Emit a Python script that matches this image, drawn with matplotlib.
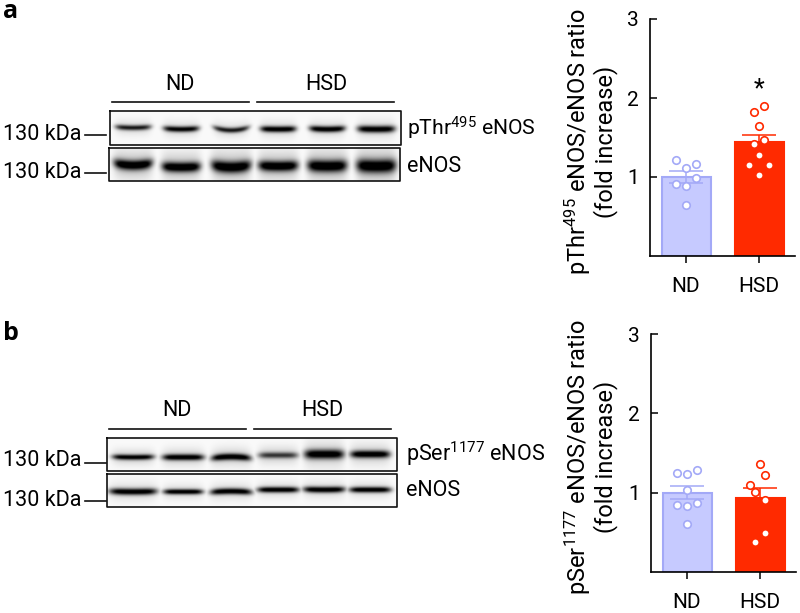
import numpy as np
import matplotlib
matplotlib.use('Agg')
import matplotlib.pyplot as plt

plt.rcParams['font.family'] = ['Roboto', 'Liberation Sans', 'DejaVu Sans']
plt.rcParams['mathtext.default'] = 'regular'

W, H = 800, 613

# Datos de las barras
grupos = ['ND', 'HSD']
ticks_y = [1, 2, 3]

thr_medias = [1.0, 1.44]
thr_error = [0.08, 0.09]
thr_nd = [1.216, 1.11, 1.165, 0.913, 0.888, 0.993, 0.648]
thr_nd_dx = [-10, 0, 10, -10, 0, 10, 0]
thr_hsd = [1.898, 1.822, 1.649, 1.422, 1.468, 1.283, 1.157, 1.149, 1.027]
thr_hsd_dx = [5, -5, 0, -5, 5, 0, -10, 10, 0]

ser_medias = [1.0, 0.93]
ser_error = [0.08, 0.13]
ser_nd = [1.254, 1.238, 1.292, 1.032, 0.839, 0.827, 0.864, 0.6]
ser_nd_dx = [-10, 0, 10, 0, -10, 0, 10, 0]
ser_hsd = [1.359, 1.217, 1.091, 1.007, 0.902, 0.487, 0.378]
ser_hsd_dx = [0, 5, -10, -5, 5, 5, -5]

# Intensidad de cada banda de los western blots (fuerza, grosor, centro y, ancho, curva)
thr_fuerza = [0.62, 0.72, 0.62, 0.92, 0.9, 0.97]
thr_grosor = [2.6, 2.8, 2.6, 3.0, 3.0, 3.4]
thr_centro = [127.5, 129, 130, 129, 129, 129]
thr_ancho = [18, 18, 18, 18, 18, 19]
thr_curva = [1, 1, 3, 0.5, 1, 0.5]
enos_a_fuerza = [1.0, 1.0, 1.0, 1.0, 1.0, 1.0]
enos_a_grosor = [4.8, 4.8, 5.6, 5.0, 5.8, 6.5]
enos_a_centro = [165, 167, 167, 166, 166, 166]
enos_a_ancho = [19.5, 19.5, 20, 20, 20, 20]
enos_a_curva = [2.5, 1, 2.5, 1, 1, 1]
ser_fuerza = [0.72, 0.75, 0.95, 0.5, 1.0, 0.92]
ser_grosor = [2.6, 3.0, 3.2, 3.0, 4.6, 3.6]
ser_centro = [457, 457, 456.5, 455, 454, 454]
ser_ancho = [21, 21, 20, 20, 20, 20]
ser_curva = [0.5, 0, -1.5, 0, 0, 0]
enos_b_fuerza = [1.0, 0.92, 0.98, 0.95, 0.98, 0.95]
enos_b_grosor = [3.2, 2.6, 3.0, 2.8, 3.0, 2.8]
enos_b_centro = [491.5, 491.5, 491, 489.5, 489.5, 489.5]
enos_b_ancho = [24, 20, 21, 21, 21, 21]
enos_b_curva = [0.5, 0, -1, 0, 0.5, 0]

carriles_a = [133, 181, 231, 278, 327, 376]
carriles_b = [133, 183, 231, 278, 324, 370]


def caja_ejes(x0, y0, x1, y1):
    return [x0 / W, 1 - y1 / H, (x1 - x0) / W, (y1 - y0) / H]


def dibujar_blot(ax, caja, carriles, fuerza, grosor, centro, ancho, curva, velo=0.12):
    x0, y0, x1, y1 = caja
    xs = np.arange(x0, x1, 0.5)
    ys = np.arange(y0, y1, 0.5)
    X, Y = np.meshgrid(xs, ys)
    img = np.zeros_like(X)
    for cx, f, g, cy, a, c in zip(carriles, fuerza, grosor, centro, ancho, curva):
        perfil_x = np.exp(-((X - cx) / a) ** 6)
        linea = cy - c * ((X - cx) / a) ** 2
        perfil_y = np.exp(-((Y - linea) / g) ** 2)
        halo = velo * np.exp(-((Y - linea) / (g * 3.0)) ** 2)
        img = np.maximum(img, perfil_x * (min(1.0, f * 1.3) * perfil_y + halo))
    ax.imshow(0.98 * (1 - np.clip(img, 0, 1)), cmap='gray', vmin=0, vmax=1, extent=(x0, x1, y1, y0),
              aspect='auto', interpolation='bilinear', zorder=1)
    ax.plot([x0, x1, x1, x0, x0], [y0, y0, y1, y1, y0], color='#111111', lw=1.2, zorder=2)


def dibujar_barras(caja, medias, error, nd, nd_dx, hsd, hsd_dx, etiqueta, pos_label):
    x0, y0, x1, y1 = caja
    ax = fig.add_axes(caja_ejes(x0, y0, x1, y1))
    ax.patch.set_alpha(0)
    ax.set_xlim(x0, x1)
    ax.set_ylim(0, 3)
    centros = [x0 + 36, x0 + 109]
    rellenos = ['#c6caff', '#ff2a00']
    bordes = ['#a3a9f7', '#ff2a00']
    puntos = [(nd, nd_dx), (hsd, hsd_dx)]
    for i in range(2):
        ax.bar(centros[i], medias[i], width=49, color=rellenos[i], edgecolor=bordes[i],
               linewidth=1.5, zorder=2)
        ax.errorbar(centros[i], medias[i], yerr=error[i], color=bordes[i], capsize=12,
                    elinewidth=1.1, capthick=1.1, zorder=3)
        vals, dx = puntos[i]
        ax.plot(np.array(dx) + centros[i], vals, 'o', ms=5.4, mfc='white', mec=bordes[i],
                mew=1.2, clip_on=False, zorder=4)
    for lado in ['top', 'right']:
        ax.spines[lado].set_visible(False)
    for lado in ['left', 'bottom']:
        ax.spines[lado].set_linewidth(1.2)
    ax.set_yticks(ticks_y)
    ax.tick_params(axis='y', direction='in', length=5, width=1.1, labelsize=15, pad=8)
    ax.set_xticks(centros)
    ax.set_xticklabels(grupos)
    ax.tick_params(axis='x', direction='out', length=5, width=1.1, labelsize=15, pad=10)
    fig.text(pos_label / W, 1 - ((y0 + y1) / 2 + 4) / H, etiqueta + '\n(fold increase)', rotation=90,
             ha='center', va='center', fontsize=17, linespacing=1.0, multialignment='center')
    return ax, centros


fig = plt.figure(figsize=(W / 100, H / 100), dpi=100)

lienzo = fig.add_axes([0, 0, 1, 1])
lienzo.set_xlim(0, W)
lienzo.set_ylim(H, 0)
lienzo.axis('off')

# Panel a
dibujar_blot(lienzo, (110, 111, 401, 145), carriles_a, thr_fuerza, thr_grosor, thr_centro, thr_ancho, thr_curva)
dibujar_blot(lienzo, (109, 148, 400, 181), carriles_a, enos_a_fuerza, enos_a_grosor, enos_a_centro, enos_a_ancho, enos_a_curva, 0.22)
# Panel b
dibujar_blot(lienzo, (107, 438, 397, 471), carriles_b, ser_fuerza, ser_grosor, ser_centro, ser_ancho, ser_curva, 0.16)
dibujar_blot(lienzo, (107, 474, 397, 507), carriles_b, enos_b_fuerza, enos_b_grosor, enos_b_centro, enos_b_ancho, enos_b_curva)

lienzo.set_xlim(0, W)
lienzo.set_ylim(H, 0)

for x_a, x_b, y in [(112, 249, 102), (257, 394, 102), (109, 246, 429), (254, 391, 429)]:
    lienzo.plot([x_a, x_b], [y, y], color='#111111', lw=1.2)
for x_a, x_b, y in [(85, 106, 135), (85, 106, 173), (85, 106, 463), (85, 106, 501)]:
    lienzo.plot([x_a, x_b], [y, y], color='#111111', lw=1.2)

for x, y, txt in [(180, 84, 'ND'), (326, 84, 'HSD'), (177, 410, 'ND'), (322, 410, 'HSD')]:
    lienzo.text(x, y, txt, ha='center', va='center', fontsize=15.5)
for y in [134, 172, 461, 500]:
    lienzo.text(3, y, '130 kDa', ha='left', va='center', fontsize=15.5)

lienzo.text(407, 128, 'pThr$^{495}$ eNOS', ha='left', va='center', fontsize=15.2)
lienzo.text(407, 166, 'eNOS', ha='left', va='center', fontsize=15.5)
lienzo.text(406, 454, 'pSer$^{1177}$ eNOS', ha='left', va='center', fontsize=15.5)
lienzo.text(406, 490, 'eNOS', ha='left', va='center', fontsize=15.5)

lienzo.text(3, 12, 'a', ha='left', va='center', fontsize=18, fontweight='bold', family='Open Sans')
lienzo.text(3, 334, 'b', ha='left', va='center', fontsize=18, fontweight='bold', family='Open Sans')

# Graficos de barras
ax_a, centros_a = dibujar_barras((650, 19, 795, 256), thr_medias, thr_error, thr_nd, thr_nd_dx,
                                 thr_hsd, thr_hsd_dx, 'pThr$^{495}$ eNOS/eNOS ratio', 590)
ax_a.text(centros_a[1], 2.11, '*', ha='center', va='center', fontsize=18)

dibujar_barras((651, 334, 796, 572), ser_medias, ser_error, ser_nd, ser_nd_dx,
               ser_hsd, ser_hsd_dx, 'pSer$^{1177}$ eNOS/eNOS ratio', 590)

fig.savefig('out.png', dpi=100)
